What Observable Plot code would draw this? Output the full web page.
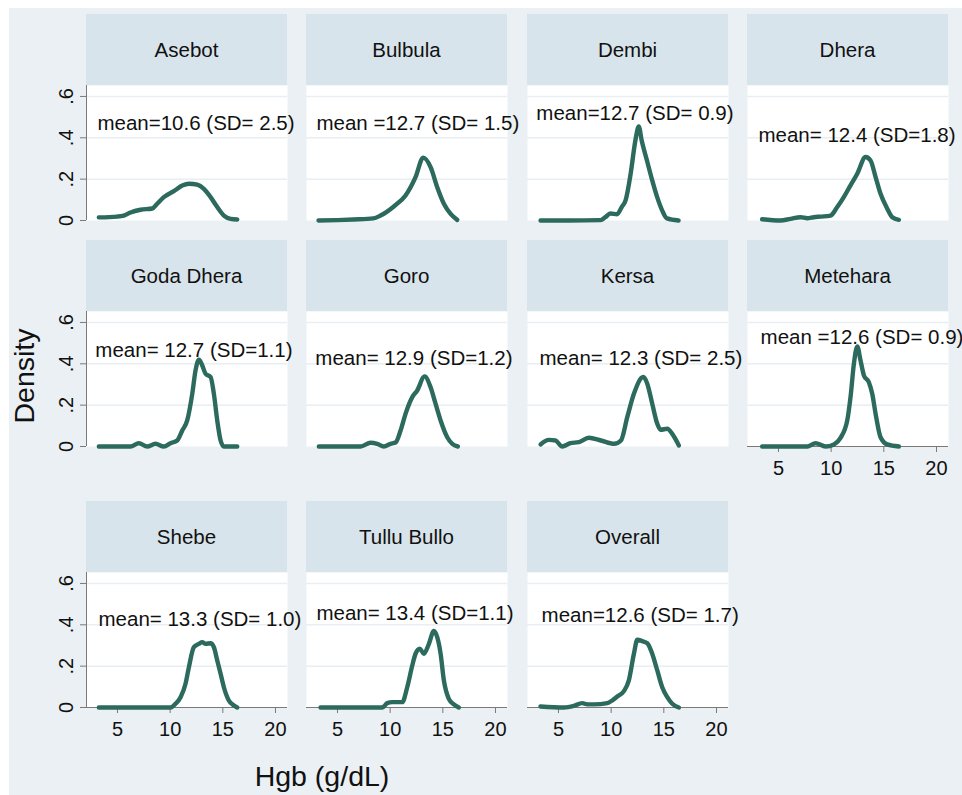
<!DOCTYPE html>
<html><head><meta charset="utf-8">
<script src="https://cdn.jsdelivr.net/npm/d3@7"></script>
<script src="https://cdn.jsdelivr.net/npm/@observablehq/plot@0.6"></script>
<style>
body{margin:0;background:#fff;}
#fig{position:relative;width:962px;height:795px;overflow:hidden;font-family:"Liberation Sans",Arial,sans-serif;color:#111;}
#bg{position:absolute;left:9px;top:8px;right:0;bottom:0;background:#eaf0f3;}
.hdr{position:absolute;width:201px;height:71px;background:#d8e4eb;display:flex;align-items:center;justify-content:center;font-size:20.5px;color:#111;}
.pnl{position:absolute;}
.pnl svg{overflow:visible;background:transparent;}
.ttl{position:absolute;font-size:28.5px;color:#111;white-space:nowrap;line-height:1;}
</style></head><body><div id="fig"><div id="bg"></div></div>
<script>
// ---- data ----
const panels = ["Asebot","Bulbula","Dembi","Dhera","Goda Dhera","Goro","Kersa","Metehara","Shebe","Tullu Bullo","Overall"];
const meanLabels = ["mean=10.6 (SD= 2.5)","mean =12.7 (SD= 1.5)","mean=12.7 (SD= 0.9)","mean= 12.4 (SD=1.8)",
  "mean= 12.7 (SD=1.1)","mean= 12.9 (SD=1.2)","mean= 12.3 (SD= 2.5)","mean =12.6 (SD= 0.9)",
  "mean= 13.3 (SD= 1.0)","mean= 13.4 (SD=1.1)","mean=12.6 (SD= 1.7)"];
const labelX = [3.1, 3.0, 2.9, 3.1, 2.9, 2.9, 3.2, 3.3, 3.2, 3.0, 3.4];
const labelY = [0.47, 0.47, 0.52, 0.41, 0.465, 0.426, 0.426, 0.528, 0.426, 0.455, 0.445];
const xTicks = [5, 10, 15, 20];
const yTicks = [0, 0.2, 0.4, 0.6];
const yTickLabels = ["0", ".2", ".4", ".6"];
const xTitle = "Hgb (g/dL)";
const yTitle = "Density";

const asebotX = [3.23,4.97,5.6,6.24,7.19,8.3,8.77,9.4,10.35,11.15,11.78,12.57,13.2,13.84,14.47,15.1,15.74,16.37];
const asebotY = [0.015,0.019,0.024,0.039,0.052,0.058,0.081,0.113,0.142,0.169,0.178,0.173,0.153,0.113,0.065,0.024,0.008,0.005];
const bulbulaX = [3.2,5.0,6.5,8.4,9.09,10.35,11.46,12.41,13.14,13.84,14.47,15.1,15.74,16.37];
const bulbulaY = [0,0.002,0.005,0.01,0.024,0.068,0.121,0.21,0.304,0.258,0.161,0.081,0.032,0.003];
const dembiX = [3.3,6.0,9.0,9.45,9.93,10.56,11.0,11.37,11.85,12.3,12.62,12.9,13.4,13.9,14.37,14.85,15.3,16.4];
const dembiY = [0,0,0.002,0.016,0.034,0.03,0.065,0.097,0.226,0.387,0.455,0.387,0.29,0.194,0.113,0.048,0.01,0];
const dheraX = [3.45,5.19,6.14,7.09,7.73,8.36,8.99,9.94,10.58,11.2,11.84,12.48,13.27,13.74,14.22,14.69,15.33,15.8,16.43];
const dheraY = [0.006,0,0.008,0.016,0.011,0.016,0.019,0.024,0.065,0.113,0.17,0.226,0.307,0.29,0.21,0.129,0.057,0.016,0.003];
const godaDheraX = [3.23,6.24,7.03,7.82,8.61,9.4,10.04,10.67,11.15,11.62,12.1,12.41,12.73,13.05,13.36,13.84,14.15,14.47,14.79,15.1,16.37];
const godaDheraY = [0,0,0.016,0,0.013,0,0.016,0.029,0.077,0.126,0.255,0.368,0.42,0.392,0.352,0.336,0.255,0.126,0.029,0,0];
const goroX = [3.23,7.19,8.14,8.77,9.4,10.04,10.51,10.99,11.46,12.1,12.57,13.27,13.84,14.31,14.79,15.42,15.9,16.43];
const goroY = [0,0,0.018,0.013,0,0.013,0.019,0.077,0.158,0.239,0.271,0.339,0.287,0.207,0.126,0.045,0.013,0];
const kersaX = [3.3,4.08,4.72,5.35,6.14,6.93,7.88,9.02,10.29,10.93,11.53,12.16,13.05,13.43,13.9,14.38,14.69,15.33,15.8,16.43];
const kersaY = [0.01,0.032,0.029,0,0.016,0.021,0.042,0.029,0.013,0.029,0.142,0.255,0.336,0.304,0.207,0.11,0.081,0.086,0.061,0.005];
const meteharaX = [3.45,7.73,8.52,9.47,10.26,10.89,11.53,11.84,12.16,12.48,12.79,13.11,13.58,13.9,14.22,14.69,15.33,16.43];
const meteharaY = [0,0,0.016,0,0.01,0.042,0.126,0.239,0.4,0.484,0.416,0.344,0.311,0.255,0.158,0.045,0.01,0];
const shebeX = [3.23,10.04,10.51,10.99,11.46,11.78,12.25,12.73,13.05,13.36,13.84,14.15,14.47,14.79,15.1,15.57,16.05,16.37];
const shebeY = [0,0,0.018,0.05,0.115,0.195,0.292,0.308,0.316,0.308,0.311,0.292,0.228,0.163,0.098,0.034,0.01,0];
const tulluBulloX = [3.39,9.25,9.72,10.2,11.15,11.62,12.1,12.41,12.82,13.2,13.68,14.15,14.47,14.79,15.1,15.57,16.05,16.52];
const tulluBulloY = [0,0,0.021,0.026,0.026,0.098,0.203,0.26,0.284,0.26,0.308,0.37,0.34,0.26,0.131,0.042,0.015,0];
const overallX = [3.29,5.51,6.46,7.25,7.73,8.36,9.63,10.1,10.58,11.21,11.68,12.16,12.48,12.95,13.43,13.9,14.38,14.85,15.33,15.8,16.43];
const overallY = [0.005,0,0.008,0.021,0.015,0.015,0.021,0.034,0.053,0.079,0.131,0.26,0.328,0.321,0.311,0.26,0.179,0.098,0.05,0.018,0];

const seriesX = [asebotX,bulbulaX,dembiX,dheraX,godaDheraX,goroX,kersaX,meteharaX,shebeX,tulluBulloX,overallX];
const seriesY = [asebotY,bulbulaY,dembiY,dheraY,godaDheraY,goroY,kersaY,meteharaY,shebeY,tulluBulloY,overallY];

// ---- layout ----
const colLeft = [86, 306, 527, 747];
const hdrTop = [14, 240, 501];
const plotTop = [85, 311, 572];
const PW = 201, PH = 135;
const xDomain = [2.06, 21.14];
const yDomain = [0, 0.653];
const lineColor = "#2c6a5e";
const axisColor = "#7a7a7a";
const fig = document.getElementById("fig");

panels.forEach((name, i) => {
  const col = i % 4, row = Math.floor(i / 4);
  const hasY = col === 0;
  const hasX = row === 2 || name === "Metehara";
  const mL = hasY ? 60 : 0, mB = hasX ? 45 : 0;

  const hdr = document.createElement("div");
  hdr.className = "hdr";
  hdr.style.left = colLeft[col] + "px";
  hdr.style.top = hdrTop[row] + "px";
  hdr.textContent = name;
  fig.appendChild(hdr);

  const pts = seriesX[i].map((x, j) => ({x, y: seriesY[i][j]}));
  const marks = [
    Plot.frame({fill: "white", stroke: null}),
    Plot.gridY([0.2, 0.4, 0.6], {stroke: "#e8eef1", strokeOpacity: 1, strokeWidth: 1.5})
  ];
  if (hasY) {
    marks.push(Plot.ruleX([xDomain[0]], {stroke: axisColor, strokeWidth: 1}));
    marks.push(Plot.axisY(yTicks, {tickFormat: d => yTickLabels[yTicks.indexOf(d)], tickRotate: -90, tickSize: 6, tickPadding: 8, fontSize: 20, label: null, stroke: axisColor}));
  }
  if (hasX) {
    marks.push(Plot.ruleY([0], {stroke: axisColor, strokeWidth: 1}));
    marks.push(Plot.axisX(xTicks, {tickSize: 6, tickPadding: 8, fontSize: 20, label: null, stroke: axisColor}));
  }
  marks.push(Plot.line(pts, {x: "x", y: "y", stroke: lineColor, strokeWidth: 4.4, curve: "monotone-x", strokeLinejoin: "round", strokeLinecap: "round"}));
  marks.push(Plot.text([{x: labelX[i], y: labelY[i], t: meanLabels[i]}], {x: "x", y: "y", text: "t", textAnchor: "start", fontSize: 20.5, fill: "#111"}));

  const chart = Plot.plot({
    width: mL + PW, height: PH + mB,
    marginLeft: mL, marginRight: 0, marginTop: 0, marginBottom: mB,
    x: {domain: xDomain, axis: hasX ? undefined : null},
    y: {domain: yDomain, axis: hasY ? undefined : null},
    style: {fontFamily: "'Liberation Sans', Arial, sans-serif", fontSize: "20px", background: "transparent", overflow: "visible", color: "#111"},
    marks
  });
  const wrap = document.createElement("div");
  wrap.className = "pnl";
  wrap.style.left = (colLeft[col] - mL) + "px";
  wrap.style.top = plotTop[row] + "px";
  wrap.appendChild(chart);
  fig.appendChild(wrap);
});

const yt = document.createElement("div");
yt.className = "ttl";
yt.textContent = yTitle;
yt.style.left = "24px"; yt.style.top = "376px";
yt.style.transform = "translate(-50%,-50%) rotate(-90deg)";
fig.appendChild(yt);

const xt = document.createElement("div");
xt.className = "ttl";
xt.textContent = xTitle;
xt.style.left = "322px"; xt.style.top = "776px";
xt.style.transform = "translate(-50%,-50%)";
fig.appendChild(xt);
</script></body></html>
